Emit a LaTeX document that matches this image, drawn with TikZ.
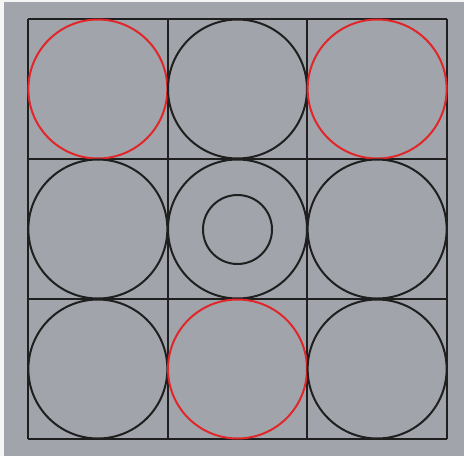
\documentclass[tikz,border=0pt]{standalone}
\begin{document}
\begin{tikzpicture}[x=1pt,y=-1pt,
  gridline/.style={draw=black!88,line width=2pt},
  blackring/.style={draw=black!88,line width=2pt},
  redring/.style={draw=ringred,line width=2pt}]
\definecolor{bg}{RGB}{161,165,171}
\definecolor{ringred}{RGB}{225,38,42}
\fill[white!92!gray] (0,0) rectangle (464,456);
\fill[bg] (4,2) rectangle (464,456);
\useasboundingbox (0,0) rectangle (464,456);
% grid
\foreach \x in {28,167.7,307.3,447} \draw[gridline] (\x,19) -- (\x,439);
\foreach \y in {19,159,299,439} \draw[gridline] (28,\y) -- (447,\y);
% circles
\foreach \cx/\cy/\s in {97.85/89/redring,237.5/89/blackring,377.15/89/redring,
  97.85/229/blackring,237.5/229/blackring,377.15/229/blackring,
  97.85/369/blackring,237.5/369/redring,377.15/369/blackring}
  \draw[\s] (\cx,\cy) circle[radius=69.5];
\draw[blackring] (237.5,229.5) circle[radius=34.5];
\end{tikzpicture}
\end{document}
